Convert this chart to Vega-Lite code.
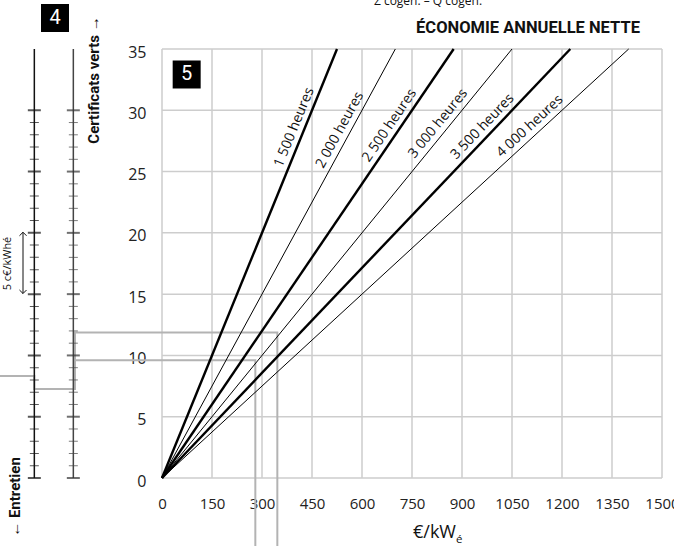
{
  "$schema": "https://vega.github.io/schema/vega-lite/v6.json",
  "width": 662,
  "height": 429,
  "autosize": {"type": "none"},
  "padding": {"left": 0, "top": 49, "right": 12, "bottom": 68},
  "background": "white",
  "config": {"view": {"stroke": null}, "font": "Open Sans"},
  "datasets": {
    "gridX": [{"v":0},{"v":150},{"v":300},{"v":450},{"v":600},{"v":750},{"v":900},{"v":1050},{"v":1200},{"v":1350},{"v":1500}],
    "gridY": [{"v":0},{"v":5},{"v":10},{"v":15},{"v":20},{"v":25},{"v":30},{"v":35}],
    "hours": [
      {"h":1500,"x":0,"y":0},{"h":1500,"x":525,"y":35},
      {"h":2000,"x":0,"y":0},{"h":2000,"x":700,"y":35},
      {"h":2500,"x":0,"y":0},{"h":2500,"x":875,"y":35},
      {"h":3000,"x":0,"y":0},{"h":3000,"x":1050,"y":35},
      {"h":3500,"x":0,"y":0},{"h":3500,"x":1225,"y":35},
      {"h":4000,"x":0,"y":0},{"h":4000,"x":1400,"y":35}
    ],
    "labels": [
      {"h":1500,"label":"1 500 heures","x":424.5,"y":28.3},
      {"h":2000,"label":"2 000 heures","x":560,"y":28.0},
      {"h":2500,"label":"2 500 heures","x":707.5,"y":28.3},
      {"h":3000,"label":"3 000 heures","x":852,"y":28.4},
      {"h":3500,"label":"3 500 heures","x":983.5,"y":28.1},
      {"h":4000,"label":"4 000 heures","x":1124,"y":28.1}
    ],
    "paths": [
      {"p":"A","o":1,"x":-486,"y":8.32},
      {"p":"A","o":2,"x":-383,"y":8.32},
      {"p":"A","o":3,"x":-383,"y":7.26},
      {"p":"A","o":4,"x":-261,"y":7.26},
      {"p":"A","o":5,"x":-261,"y":9.6},
      {"p":"A","o":6,"x":280,"y":9.6},
      {"p":"A","o":7,"x":280,"y":-5.8},
      {"p":"B","o":1,"x":-261,"y":7.26},
      {"p":"B","o":2,"x":-261,"y":11.87},
      {"p":"B","o":3,"x":346,"y":11.87},
      {"p":"B","o":4,"x":346,"y":-5.8}
    ],
    "ticks": [{"v":0},{"v":1},{"v":2},{"v":3},{"v":4},{"v":5},{"v":6},{"v":7},{"v":8},{"v":9},{"v":10},{"v":11},{"v":12},{"v":13},{"v":14},{"v":15},{"v":16},{"v":17},{"v":18},{"v":19},{"v":20},{"v":21},{"v":22},{"v":23},{"v":24},{"v":25},{"v":26},{"v":27},{"v":28},{"v":29},{"v":30}]
  },
  "layer": [
    {
      "data": {"name": "gridX"},
      "mark": {"type": "rule", "color": "#cdcdcd", "strokeWidth": 1.5},
      "encoding": {
        "x": {"field": "v", "type": "quantitative",
              "scale": {"domain": [-486, 1500], "nice": false, "zero": false},
              "axis": {"values": [0,150,300,450,600,750,900,1050,1200,1350,1500], "format": "d", "title": null, "domain": false, "ticks": false, "tickSize": 0, "grid": false,
                       "labelPadding": 25, "labelBaseline": "middle", "labelFontSize": 15, "labelColor": "#222", "labelFlush": false, "labelOverlap": false, "labelBound": false}},
        "y": {"datum": 0, "type": "quantitative"},
        "y2": {"datum": 35}
      }
    },
    {
      "data": {"name": "gridY"},
      "mark": {"type": "rule", "color": "#cdcdcd", "strokeWidth": 1.5},
      "encoding": {
        "y": {"field": "v", "type": "quantitative",
              "scale": {"domain": [0, 35], "nice": false, "zero": false},
              "axis": {"values": [0,5,10,15,20,25,30,35], "format": "d", "title": null, "domain": false, "ticks": false, "tickSize": 0, "grid": false, "offset": -162,
                       "labelPadding": 16, "labelFontSize": 16, "labelColor": "#222", "labelFlush": false, "labelOverlap": false, "labelOffset": 3}},
        "x": {"datum": 0, "type": "quantitative"},
        "x2": {"datum": 1500}
      }
    },
    {
      "data": {"name": "paths"},
      "mark": {"type": "line", "color": "#b3b3b3", "strokeWidth": 2, "strokeJoin": "miter"},
      "encoding": {
        "x": {"field": "x", "type": "quantitative"},
        "y": {"field": "y", "type": "quantitative"},
        "detail": {"field": "p"},
        "order": {"field": "o"}
      }
    },
    {
      "data": {"name": "hours"},
      "mark": {"type": "line", "color": "black"},
      "encoding": {
        "x": {"field": "x", "type": "quantitative"},
        "y": {"field": "y", "type": "quantitative"},
        "detail": {"field": "h"},
        "strokeWidth": {"field": "h", "type": "ordinal", "scale": {"type": "ordinal", "domain": [1500,2000,2500,3000,3500,4000], "range": [2.4,1,2.4,1,2.4,1]}, "legend": null}
      }
    },
    {
      "data": {"name": "labels"},
      "mark": {"type": "text", "fontSize": 14, "color": "#111", "align": "center", "baseline": "middle", "dy": -10},
      "encoding": {
        "x": {"field": "x", "type": "quantitative"},
        "y": {"field": "y", "type": "quantitative"},
        "text": {"field": "label"},
        "angle": {"field": "h", "type": "ordinal", "scale": {"type": "ordinal", "domain": [1500,2000,2500,3000,3500,4000], "range": [292.2,298.54,304.22,309.21,313.59,317.42]}, "legend": null}
      }
    },
    {
      "data": {"values": [{}]},
      "mark": {"type": "rule", "color": "#111", "strokeWidth": 1.5},
      "encoding": {"x": {"datum": -383}, "y": {"datum": 0}, "y2": {"datum": 35}}
    },
    {
      "data": {"values": [{}]},
      "mark": {"type": "rule", "color": "#444", "strokeWidth": 1.5},
      "encoding": {"x": {"datum": -266}, "y": {"datum": 0}, "y2": {"datum": 35}}
    },
    {
      "data": {"name": "ticks"},
      "transform": [{"filter": "datum.v % 5 == 0"}],
      "mark": {"type": "tick", "orient": "horizontal", "color": "#111", "size": 13, "thickness": 2},
      "encoding": {"x": {"datum": -383}, "y": {"field": "v", "type": "quantitative"}}
    },
    {
      "data": {"name": "ticks"},
      "transform": [{"filter": "datum.v % 5 != 0"}],
      "mark": {"type": "tick", "orient": "horizontal", "color": "#111", "size": 9, "thickness": 1},
      "encoding": {"x": {"datum": -383}, "y": {"field": "v", "type": "quantitative"}}
    },
    {
      "data": {"name": "ticks"},
      "transform": [{"filter": "datum.v % 5 == 0"}],
      "mark": {"type": "tick", "orient": "horizontal", "color": "#333", "size": 13, "thickness": 2},
      "encoding": {"x": {"datum": -266}, "y": {"field": "v", "type": "quantitative"}}
    },
    {
      "data": {"name": "ticks"},
      "transform": [{"filter": "datum.v % 5 != 0"}],
      "mark": {"type": "tick", "orient": "horizontal", "color": "#444", "size": 9, "thickness": 1},
      "encoding": {"x": {"datum": -266}, "y": {"field": "v", "type": "quantitative"}}
    },
    {
      "data": {"values": [{}]},
      "mark": {"type": "rule", "color": "#111", "strokeWidth": 1},
      "encoding": {"x": {"datum": -417}, "y": {"datum": 15.05}, "y2": {"datum": 20.05}}
    },
    {
      "data": {"values": [{"x": -417, "y": 20.05}]},
      "mark": {"type": "point", "shape": "M-1,1L0,0L1,1", "size": 50, "filled": false, "stroke": "#111", "strokeWidth": 1, "opacity": 1},
      "encoding": {"x": {"field": "x", "type": "quantitative"}, "y": {"field": "y", "type": "quantitative"}}
    },
    {
      "data": {"values": [{"x": -417, "y": 15.05}]},
      "mark": {"type": "point", "shape": "M-1,-1L0,0L1,-1", "size": 50, "filled": false, "stroke": "#111", "strokeWidth": 1, "opacity": 1},
      "encoding": {"x": {"field": "x", "type": "quantitative"}, "y": {"field": "y", "type": "quantitative"}}
    },
    {
      "data": {"values": [{"t": "5 c€/kWhé", "x": -462, "y": 17.5}]},
      "mark": {"type": "text", "angle": 270, "fontSize": 11, "color": "#111", "align": "center", "baseline": "middle"},
      "encoding": {"x": {"field": "x", "type": "quantitative"}, "y": {"field": "y", "type": "quantitative"}, "text": {"field": "t"}}
    },
    {
      "data": {"values": [{"t": "Certificats verts →", "x": -204, "y": 32.47}, {"t": "← Entretien", "x": -441, "y": -1.55}]},
      "mark": {"type": "text", "angle": 270, "fontSize": 15, "fontWeight": "bold", "font": "Roboto", "color": "#111", "align": "center", "baseline": "middle"},
      "encoding": {"x": {"field": "x", "type": "quantitative"}, "y": {"field": "y", "type": "quantitative"}, "text": {"field": "t"}}
    },
    {
      "data": {"values": [{"t": "ÉCONOMIE ANNUELLE NETTE", "x": 1098, "y": 36.31}]},
      "mark": {"type": "text", "fontSize": 16.5, "fontWeight": "bold", "font": "Roboto", "color": "#111", "align": "center", "baseline": "alphabetic"},
      "encoding": {"x": {"field": "x", "type": "quantitative"}, "y": {"field": "y", "type": "quantitative"}, "text": {"field": "t"}}
    },
    {
      "data": {"values": [{"t": "Σ cogen. – Q cogen.", "x": 798, "y": 38.6}]},
      "mark": {"type": "text", "fontSize": 12, "color": "#111", "align": "center", "baseline": "alphabetic"},
      "encoding": {"x": {"field": "x", "type": "quantitative"}, "y": {"field": "y", "type": "quantitative"}, "text": {"field": "t"}}
    },
    {
      "data": {"values": [{"t": "€/kW", "x": 753, "y": -4.9}]},
      "mark": {"type": "text", "fontSize": 18, "color": "#111", "align": "left", "baseline": "alphabetic"},
      "encoding": {"x": {"field": "x", "type": "quantitative"}, "y": {"field": "y", "type": "quantitative"}, "text": {"field": "t"}}
    },
    {
      "data": {"values": [{"t": "é", "x": 882, "y": -5.3}]},
      "mark": {"type": "text", "fontSize": 11.5, "color": "#111", "align": "left", "baseline": "alphabetic"},
      "encoding": {"x": {"field": "x", "type": "quantitative"}, "y": {"field": "y", "type": "quantitative"}, "text": {"field": "t"}}
    },
    {
      "data": {"values": [{"t": "4", "x": -321, "y": 37.53}, {"t": "5", "x": 74, "y": 32.92}]},
      "mark": {"type": "point", "shape": "square", "size": 784, "filled": true, "color": "black", "opacity": 1},
      "encoding": {"x": {"field": "x", "type": "quantitative"}, "y": {"field": "y", "type": "quantitative"}}
    },
    {
      "data": {"values": [{"t": "4", "x": -321, "y": 37.53}, {"t": "5", "x": 74, "y": 32.92}]},
      "mark": {"type": "text", "fontSize": 20, "color": "white", "align": "center", "baseline": "middle", "font": "Roboto"},
      "encoding": {"x": {"field": "x", "type": "quantitative"}, "y": {"field": "y", "type": "quantitative"}, "text": {"field": "t"}}
    }
  ]
}
